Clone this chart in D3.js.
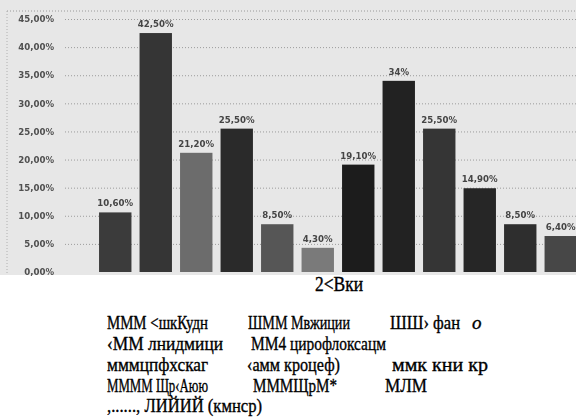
<!DOCTYPE html>
<html>
<head>
<meta charset="utf-8">
<script src="https://cdn.jsdelivr.net/npm/d3@7"></script>
<style>
  html, body { margin: 0; padding: 0; background: #fff; }
  svg { display: block; }
</style>
</head>
<body>
<svg id="chart" width="576" height="417"></svg>
<script>
// ---- data ----
const groups = ["g1", "g2", "g3", "g4", "g5", "g6", "g7", "g8", "g9", "g10", "g11", "g12"];
const shares = [10.6, 42.5, 21.2, 25.5, 8.5, 4.3, 19.1, 34, 25.5, 14.9, 8.5, 6.4];
const yTicks = [0, 5, 10, 15, 20, 25, 30, 35, 40, 45];
const titleText = "2<Вки";
const legendRows = [
  ["МММ <шкКудн", "ШММ Мвжиции", "ШШ› фан о"],
  ["‹ММ лнидмици", "ММ4 цирофлоксацм"],
  ["мммцпфхскаг", "‹амм кроцеф)", "ммк кни кр"],
  ["ММММ Щр‹Аюю", "МММЩрМ*", "МЛМ"],
  [",......, ЛИЙИЙ (кмнср)"]
];

// ---- styles / layout ----
const barShades = ["#3b3b3b", "#343434", "#6c6c6c", "#2c2c2c", "#575757", "#7a7a7a",
                   "#1d1d1d", "#212121", "#353535", "#262626", "#2f2f2f", "#474747"];
const legendWidths = [
  [101, 102, 88],
  [116, 135],
  [101, 93, 96],
  [101, 84, 42],
  [155]
];
const legendCols = [107, 248, 390];
const legendColShift = [[0, 0, 0], [0, 3, 0], [0, -1, 2], [0, 5, -5], [0]];
const legendBaselines = [329, 350, 371, 392, 412];

// comma-decimal locale for the percentage labels
const loc = d3.formatLocale({ decimal: ",", thousands: " ", grouping: [3], currency: ["", ""] });
const fmtTick = v => loc.format(".2f")(v) + "%";
const fmtValue = v => (Number.isInteger(v) ? loc.format("d")(v) : loc.format(".2f")(v)) + "%";

const svg = d3.select("#chart");

const defs = svg.append("defs");
defs.append("filter").attr("id", "soft")
  .append("feGaussianBlur").attr("stdDeviation", 0.45);

const plot = svg.append("g").attr("filter", "url(#soft)");

// panel background
plot.append("rect")
  .attr("x", 0).attr("y", 0).attr("width", 576).attr("height", 275)
  .attr("fill", "#e7e7e7");

// dotted frame (top and left)
plot.append("line").attr("x1", 7).attr("x2", 576).attr("y1", 11).attr("y2", 11)
  .attr("stroke", "#9a9a9a").attr("stroke-dasharray", "1,2");
plot.append("line").attr("x1", 7).attr("x2", 7).attr("y1", 11).attr("y2", 275)
  .attr("stroke", "#b0b0b0").attr("stroke-dasharray", "1,2");

// scales
const x = d3.scaleBand().domain(groups).range([95, 581]).paddingInner(0.2).paddingOuter(0.1);
const y = d3.scaleLinear().domain([0, 45]).range([272, 19]);

// gridlines
const grid = plot.append("g").attr("transform", "translate(65,0)")
  .call(d3.axisLeft(y).tickValues(yTicks.filter(t => t > 0)).tickSize(-(576 - 65)).tickFormat(""));
grid.select(".domain").remove();
grid.selectAll(".tick line")
  .attr("stroke", "#9c9c9c").attr("stroke-dasharray", "1,2");

// y axis labels
const yAxis = plot.append("g").attr("transform", "translate(54,0)")
  .call(d3.axisLeft(y).tickValues(yTicks).tickSize(0).tickPadding(0).tickFormat(fmtTick));
yAxis.select(".domain").remove();
yAxis.selectAll("text")
  .attr("fill", "#505050")
  .style("font-family", "'DejaVu Sans', Verdana, sans-serif")
  .style("font-weight", "bold")
  .style("font-size", "8.6px");

// bars
plot.append("g").selectAll("rect")
  .data(shares)
  .join("rect")
  .attr("x", (d, i) => x(groups[i]))
  .attr("y", d => y(d))
  .attr("width", x.bandwidth())
  .attr("height", d => y(0) - y(d))
  .attr("fill", (d, i) => barShades[i]);

// value labels
plot.append("g").selectAll("text")
  .data(shares)
  .join("text")
  .attr("x", (d, i) => x(groups[i]) + x.bandwidth() / 2)
  .attr("y", d => y(d) - 6)
  .attr("text-anchor", "middle")
  .attr("fill", "#454545")
  .style("font-family", "'DejaVu Sans', Verdana, sans-serif")
  .style("font-weight", "bold")
  .style("font-size", "8.6px")
  .text(d => fmtValue(d));

// title under the panel
svg.append("text")
  .attr("x", 315).attr("y", 291)
  .attr("textLength", 48).attr("lengthAdjust", "spacingAndGlyphs")
  .style("font-family", "'Liberation Serif', 'Times New Roman', serif")
  .style("font-size", "21px")
  .attr("fill", "#000")
  .attr("stroke", "#000").attr("stroke-width", 0.4)
  .text(titleText);

// legend text block
const legend = svg.append("g")
  .style("font-family", "'Liberation Serif', 'Times New Roman', serif")
  .style("font-size", "19px")
  .attr("fill", "#000")
  .attr("stroke", "#000")
  .attr("stroke-width", 0.35);

legendRows.forEach((row, r) => {
  row.forEach((label, c) => {
    const x0 = legendCols[c] + legendColShift[r][c];
    const w = legendWidths[r][c];
    if (label.endsWith(" о")) {
      // trailing italic letter set as its own run after the upright part
      const head = label.slice(0, -2);
      const headW = w - 18;
      legend.append("text")
        .attr("x", x0).attr("y", legendBaselines[r])
        .attr("textLength", headW).attr("lengthAdjust", "spacingAndGlyphs")
        .text(head);
      legend.append("text")
        .attr("x", x0 + 82).attr("y", legendBaselines[r])
        .style("font-style", "italic")
        .text(label.slice(-1));
    } else {
      legend.append("text")
        .attr("x", x0).attr("y", legendBaselines[r])
        .attr("textLength", w).attr("lengthAdjust", "spacingAndGlyphs")
        .text(label);
    }
  });
});
</script>
</body>
</html>
